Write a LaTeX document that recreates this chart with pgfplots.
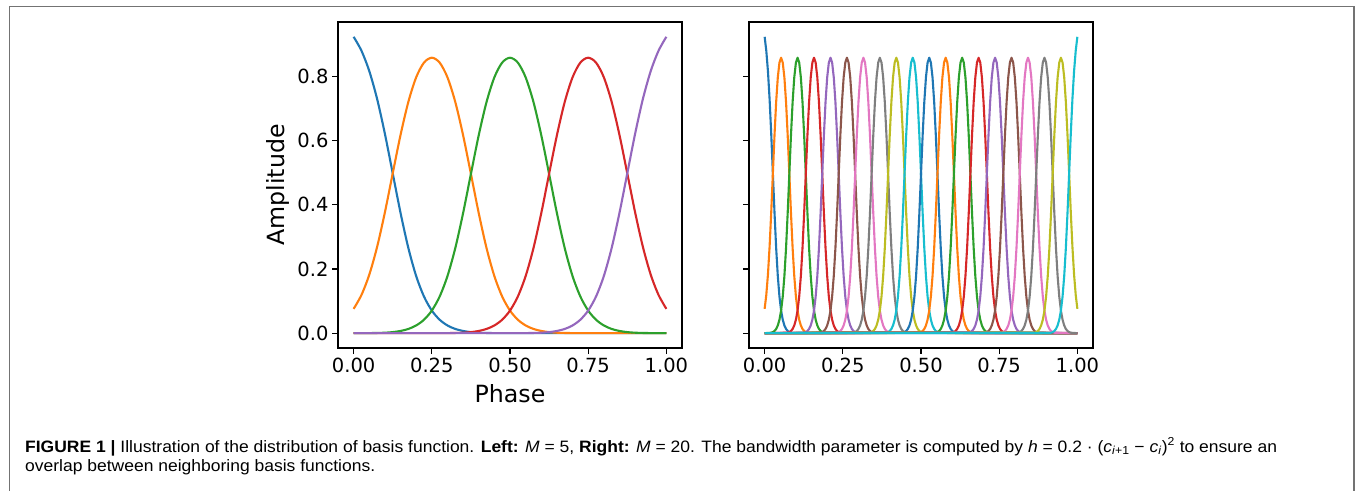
\documentclass[border=0pt]{standalone}
\usepackage{fontspec}
\setmainfont{DejaVu Sans}
\newfontfamily\capfont[FakeStretch=1.06]{Liberation Sans}
\usepackage{pgfplots}
\pgfplotsset{compat=1.18}
\definecolor{C0}{HTML}{1F77B4}
\definecolor{C1}{HTML}{FF7F0E}
\definecolor{C2}{HTML}{2CA02C}
\definecolor{C3}{HTML}{D62728}
\definecolor{C4}{HTML}{9467BD}
\definecolor{C5}{HTML}{8C564B}
\definecolor{C6}{HTML}{E377C2}
\definecolor{C7}{HTML}{7F7F7F}
\definecolor{C8}{HTML}{BCBD22}
\definecolor{C9}{HTML}{17BECF}
\pgfplotsset{
  mpl/.style={
    scale only axis, width=344pt, height=326pt,
    ymin=-0.0462, ymax=0.9703,
    tick pos=left, tick align=outside, major tick length=6pt,
    axis line style={line width=1.1pt, black},
    every tick/.style={line width=1.1pt, black},
    ytick={0,0.2,0.4,0.6,0.8},
    ticklabel style={font=\fontsize{19.5}{22}\selectfont},
    label style={font=\fontsize{23.7}{26}\selectfont},
    every axis plot/.append style={line width=2.1pt, no marks, line join=round},
  }
}
\begin{document}
\begin{tikzpicture}
\useasboundingbox (0pt,0pt) rectangle (1357pt,490pt);
\fill[white] (0pt,0pt) rectangle (1357pt,490pt);
\draw[line width=1.2pt, black!55] (9.5pt,-20pt) rectangle (1354pt,483.5pt);

% ---------------- left panel: M = 5 ----------------
\begin{axis}[mpl, at={(338pt,142pt)}, anchor=south west,
  xmin=-0.05, xmax=1.05,
  xtick={0,0.25,0.5,0.75,1}, xticklabels={0.00,0.25,0.50,0.75,1.00},
  yticklabels={0.0,0.2,0.4,0.6,0.8},
  xlabel={Phase}, ylabel={Amplitude},
  xlabel style={at={(axis description cs:0.5,-0.1687)}, anchor=base},
  ylabel style={at={(axis description cs:-0.175,0.5)}, anchor=center},
]
\addplot[C0, smooth] coordinates {(0,0.9241)(0.025,0.8807)(0.05,0.8173)(0.075,0.7306)(0.1,0.6215)(0.125,0.4983)(0.15,0.3749)(0.175,0.2654)(0.2,0.1780)(0.225,0.1142)(0.25,0.0705)(0.275,0.0420)(0.3,0.0241)(0.325,0.0132)(0.35,0.0069)(0.375,0.0033)(0.4,0.0015)(0.425,0.0007)(0.45,0.0003)(0.475,0.0001)(0.5,0)(0.75,0)(1,0)};
\addplot[C1, smooth] coordinates {(0,0.0759)(0.025,0.1192)(0.05,0.1824)(0.075,0.2688)(0.1,0.3770)(0.125,0.4983)(0.15,0.6182)(0.175,0.7214)(0.2,0.7979)(0.225,0.8438)(0.25,0.8589)(0.275,0.8437)(0.3,0.7977)(0.325,0.7209)(0.35,0.6172)(0.375,0.4967)(0.4,0.3744)(0.425,0.2652)(0.45,0.1780)(0.475,0.1142)(0.5,0.0705)(0.525,0.0420)(0.55,0.0241)(0.575,0.0132)(0.6,0.0069)(0.625,0.0033)(0.65,0.0015)(0.675,0.0007)(0.7,0.0003)(0.725,0.0001)(0.75,0)(1,0)};
\addplot[C2, smooth] coordinates {(0,0)(0.025,0.0001)(0.05,0.0003)(0.075,0.0007)(0.1,0.0015)(0.125,0.0033)(0.15,0.0069)(0.175,0.0132)(0.2,0.0241)(0.225,0.0420)(0.25,0.0705)(0.275,0.1142)(0.3,0.1780)(0.325,0.2652)(0.35,0.3744)(0.375,0.4967)(0.4,0.6172)(0.425,0.7209)(0.45,0.7977)(0.475,0.8437)(0.5,0.8589)(0.525,0.8437)(0.55,0.7977)(0.575,0.7209)(0.6,0.6172)(0.625,0.4967)(0.65,0.3744)(0.675,0.2652)(0.7,0.1780)(0.725,0.1142)(0.75,0.0705)(0.775,0.0420)(0.8,0.0241)(0.825,0.0132)(0.85,0.0069)(0.875,0.0033)(0.9,0.0015)(0.925,0.0007)(0.95,0.0003)(0.975,0.0001)(1,0)};
\addplot[C3, smooth] coordinates {(0,0)(0.25,0)(0.275,0.0001)(0.3,0.0003)(0.325,0.0007)(0.35,0.0015)(0.375,0.0033)(0.4,0.0069)(0.425,0.0132)(0.45,0.0241)(0.475,0.0420)(0.5,0.0705)(0.525,0.1142)(0.55,0.1780)(0.575,0.2652)(0.6,0.3744)(0.625,0.4967)(0.65,0.6172)(0.675,0.7209)(0.7,0.7977)(0.725,0.8437)(0.75,0.8589)(0.775,0.8438)(0.8,0.7979)(0.825,0.7214)(0.85,0.6182)(0.875,0.4983)(0.9,0.3770)(0.925,0.2688)(0.95,0.1824)(0.975,0.1192)(1,0.0759)};
\addplot[C4, smooth] coordinates {(0,0)(0.25,0)(0.5,0)(0.525,0.0001)(0.55,0.0003)(0.575,0.0007)(0.6,0.0015)(0.625,0.0033)(0.65,0.0069)(0.675,0.0132)(0.7,0.0241)(0.725,0.0420)(0.75,0.0705)(0.775,0.1142)(0.8,0.1780)(0.825,0.2654)(0.85,0.3749)(0.875,0.4983)(0.9,0.6215)(0.925,0.7306)(0.95,0.8173)(0.975,0.8807)(1,0.9241)};
\end{axis}

% ---------------- right panel: M = 20 (x in units of 1/190) ----------------
\begin{axis}[mpl, at={(749pt,142pt)}, anchor=south west,
  xmin=-9.5, xmax=199.5,
  xtick={0,47.5,95,142.5,190}, xticklabels={0.00,0.25,0.50,0.75,1.00},
  yticklabels={},
]
\addplot[C0] coordinates {(0,0.9241)(1,0.8807)(2,0.8173)(3,0.7306)(4,0.6215)(5,0.4983)(6,0.3749)(7,0.2654)(8,0.1780)(9,0.1142)(10,0.0705)(11,0.0420)(12,0.0241)(13,0.0132)(14,0.0069)(15,0.0033)(16,0.0015)(17,0.0007)(190,0)};
\addplot[C1] coordinates {(0,0.0759)(1,0.1192)(2,0.1824)(3,0.2688)(4,0.3770)(5,0.4983)(6,0.6182)(7,0.7214)(8,0.7979)(9,0.8438)(10,0.8589)(11,0.8437)(12,0.7977)(13,0.7209)(14,0.6172)(15,0.4967)(16,0.3744)(17,0.2652)(18,0.1780)(19,0.1142)(20,0.0705)(21,0.0420)(22,0.0241)(23,0.0132)(24,0.0069)(25,0.0033)(26,0.0015)(190,0)};
\addplot[C2] coordinates {(0,0)(4,.0015)(5,.0033)(6,.0069)(7,.0132)(8,.0241)(9,.0420)(10,.0705)(11,.1142)(12,.1780)(13,.2652)(14,.3744)(15,.4967)(16,.6172)(17,.7209)(18,.7977)(19,.8437)(20,.8589)(21,.8437)(22,.7977)(23,.7209)(24,.6172)(25,.4967)(26,.3744)(27,.2652)(28,.1780)(29,.1142)(30,.0705)(31,.0420)(32,.0241)(33,.0132)(34,.0069)(35,.0033)(36,.0015)(190,0)};
\addplot[C3] coordinates {(0,0)(14,.0015)(15,.0033)(16,.0069)(17,.0132)(18,.0241)(19,.0420)(20,.0705)(21,.1142)(22,.1780)(23,.2652)(24,.3744)(25,.4967)(26,.6172)(27,.7209)(28,.7977)(29,.8437)(30,.8589)(31,.8437)(32,.7977)(33,.7209)(34,.6172)(35,.4967)(36,.3744)(37,.2652)(38,.1780)(39,.1142)(40,.0705)(41,.0420)(42,.0241)(43,.0132)(44,.0069)(45,.0033)(46,.0015)(190,0)};
\addplot[C4] coordinates {(0,0)(24,.0015)(25,.0033)(26,.0069)(27,.0132)(28,.0241)(29,.0420)(30,.0705)(31,.1142)(32,.1780)(33,.2652)(34,.3744)(35,.4967)(36,.6172)(37,.7209)(38,.7977)(39,.8437)(40,.8589)(41,.8437)(42,.7977)(43,.7209)(44,.6172)(45,.4967)(46,.3744)(47,.2652)(48,.1780)(49,.1142)(50,.0705)(51,.0420)(52,.0241)(53,.0132)(54,.0069)(55,.0033)(56,.0015)(190,0)};
\addplot[C5] coordinates {(0,0)(34,.0015)(35,.0033)(36,.0069)(37,.0132)(38,.0241)(39,.0420)(40,.0705)(41,.1142)(42,.1780)(43,.2652)(44,.3744)(45,.4967)(46,.6172)(47,.7209)(48,.7977)(49,.8437)(50,.8589)(51,.8437)(52,.7977)(53,.7209)(54,.6172)(55,.4967)(56,.3744)(57,.2652)(58,.1780)(59,.1142)(60,.0705)(61,.0420)(62,.0241)(63,.0132)(64,.0069)(65,.0033)(66,.0015)(190,0)};
\addplot[C6] coordinates {(0,0)(44,.0015)(45,.0033)(46,.0069)(47,.0132)(48,.0241)(49,.0420)(50,.0705)(51,.1142)(52,.1780)(53,.2652)(54,.3744)(55,.4967)(56,.6172)(57,.7209)(58,.7977)(59,.8437)(60,.8589)(61,.8437)(62,.7977)(63,.7209)(64,.6172)(65,.4967)(66,.3744)(67,.2652)(68,.1780)(69,.1142)(70,.0705)(71,.0420)(72,.0241)(73,.0132)(74,.0069)(75,.0033)(76,.0015)(190,0)};
\addplot[C7] coordinates {(0,0)(54,.0015)(55,.0033)(56,.0069)(57,.0132)(58,.0241)(59,.0420)(60,.0705)(61,.1142)(62,.1780)(63,.2652)(64,.3744)(65,.4967)(66,.6172)(67,.7209)(68,.7977)(69,.8437)(70,.8589)(71,.8437)(72,.7977)(73,.7209)(74,.6172)(75,.4967)(76,.3744)(77,.2652)(78,.1780)(79,.1142)(80,.0705)(81,.0420)(82,.0241)(83,.0132)(84,.0069)(85,.0033)(86,.0015)(190,0)};
\addplot[C8] coordinates {(0,0)(64,.0015)(65,.0033)(66,.0069)(67,.0132)(68,.0241)(69,.0420)(70,.0705)(71,.1142)(72,.1780)(73,.2652)(74,.3744)(75,.4967)(76,.6172)(77,.7209)(78,.7977)(79,.8437)(80,.8589)(81,.8437)(82,.7977)(83,.7209)(84,.6172)(85,.4967)(86,.3744)(87,.2652)(88,.1780)(89,.1142)(90,.0705)(91,.0420)(92,.0241)(93,.0132)(94,.0069)(95,.0033)(96,.0015)(190,0)};
\addplot[C9] coordinates {(0,0)(74,.0015)(75,.0033)(76,.0069)(77,.0132)(78,.0241)(79,.0420)(80,.0705)(81,.1142)(82,.1780)(83,.2652)(84,.3744)(85,.4967)(86,.6172)(87,.7209)(88,.7977)(89,.8437)(90,.8589)(91,.8437)(92,.7977)(93,.7209)(94,.6172)(95,.4967)(96,.3744)(97,.2652)(98,.1780)(99,.1142)(100,.0705)(101,.0420)(102,.0241)(103,.0132)(104,.0069)(105,.0033)(106,.0015)(190,0)};
\addplot[C0] coordinates {(0,0)(84,.0015)(85,.0033)(86,.0069)(87,.0132)(88,.0241)(89,.0420)(90,.0705)(91,.1142)(92,.1780)(93,.2652)(94,.3744)(95,.4967)(96,.6172)(97,.7209)(98,.7977)(99,.8437)(100,.8589)(101,.8437)(102,.7977)(103,.7209)(104,.6172)(105,.4967)(106,.3744)(107,.2652)(108,.1780)(109,.1142)(110,.0705)(111,.0420)(112,.0241)(113,.0132)(114,.0069)(115,.0033)(116,.0015)(190,0)};
\addplot[C1] coordinates {(0,0)(94,.0015)(95,.0033)(96,.0069)(97,.0132)(98,.0241)(99,.0420)(100,.0705)(101,.1142)(102,.1780)(103,.2652)(104,.3744)(105,.4967)(106,.6172)(107,.7209)(108,.7977)(109,.8437)(110,.8589)(111,.8437)(112,.7977)(113,.7209)(114,.6172)(115,.4967)(116,.3744)(117,.2652)(118,.1780)(119,.1142)(120,.0705)(121,.0420)(122,.0241)(123,.0132)(124,.0069)(125,.0033)(126,.0015)(190,0)};
\addplot[C2] coordinates {(0,0)(104,.0015)(105,.0033)(106,.0069)(107,.0132)(108,.0241)(109,.0420)(110,.0705)(111,.1142)(112,.1780)(113,.2652)(114,.3744)(115,.4967)(116,.6172)(117,.7209)(118,.7977)(119,.8437)(120,.8589)(121,.8437)(122,.7977)(123,.7209)(124,.6172)(125,.4967)(126,.3744)(127,.2652)(128,.1780)(129,.1142)(130,.0705)(131,.0420)(132,.0241)(133,.0132)(134,.0069)(135,.0033)(136,.0015)(190,0)};
\addplot[C3] coordinates {(0,0)(114,.0015)(115,.0033)(116,.0069)(117,.0132)(118,.0241)(119,.0420)(120,.0705)(121,.1142)(122,.1780)(123,.2652)(124,.3744)(125,.4967)(126,.6172)(127,.7209)(128,.7977)(129,.8437)(130,.8589)(131,.8437)(132,.7977)(133,.7209)(134,.6172)(135,.4967)(136,.3744)(137,.2652)(138,.1780)(139,.1142)(140,.0705)(141,.0420)(142,.0241)(143,.0132)(144,.0069)(145,.0033)(146,.0015)(190,0)};
\addplot[C4] coordinates {(0,0)(124,.0015)(125,.0033)(126,.0069)(127,.0132)(128,.0241)(129,.0420)(130,.0705)(131,.1142)(132,.1780)(133,.2652)(134,.3744)(135,.4967)(136,.6172)(137,.7209)(138,.7977)(139,.8437)(140,.8589)(141,.8437)(142,.7977)(143,.7209)(144,.6172)(145,.4967)(146,.3744)(147,.2652)(148,.1780)(149,.1142)(150,.0705)(151,.0420)(152,.0241)(153,.0132)(154,.0069)(155,.0033)(156,.0015)(190,0)};
\addplot[C5] coordinates {(0,0)(134,.0015)(135,.0033)(136,.0069)(137,.0132)(138,.0241)(139,.0420)(140,.0705)(141,.1142)(142,.1780)(143,.2652)(144,.3744)(145,.4967)(146,.6172)(147,.7209)(148,.7977)(149,.8437)(150,.8589)(151,.8437)(152,.7977)(153,.7209)(154,.6172)(155,.4967)(156,.3744)(157,.2652)(158,.1780)(159,.1142)(160,.0705)(161,.0420)(162,.0241)(163,.0132)(164,.0069)(165,.0033)(166,.0015)(190,0)};
\addplot[C6] coordinates {(0,0)(144,.0015)(145,.0033)(146,.0069)(147,.0132)(148,.0241)(149,.0420)(150,.0705)(151,.1142)(152,.1780)(153,.2652)(154,.3744)(155,.4967)(156,.6172)(157,.7209)(158,.7977)(159,.8437)(160,.8589)(161,.8437)(162,.7977)(163,.7209)(164,.6172)(165,.4967)(166,.3744)(167,.2652)(168,.1780)(169,.1142)(170,.0705)(171,.0420)(172,.0241)(173,.0132)(174,.0069)(175,.0033)(176,.0015)(190,0)};
\addplot[C7] coordinates {(0,0)(154,.0015)(155,.0033)(156,.0069)(157,.0132)(158,.0241)(159,.0420)(160,.0705)(161,.1142)(162,.1780)(163,.2652)(164,.3744)(165,.4967)(166,.6172)(167,.7209)(168,.7977)(169,.8437)(170,.8589)(171,.8437)(172,.7977)(173,.7209)(174,.6172)(175,.4967)(176,.3744)(177,.2652)(178,.1780)(179,.1142)(180,.0705)(181,.0420)(182,.0241)(183,.0132)(184,.0069)(185,.0033)(186,.0015)(190,0)};
\addplot[C8] coordinates {(0,0)(164,0.0015)(165,0.0033)(166,0.0069)(167,0.0132)(168,0.0241)(169,0.0420)(170,0.0705)(171,0.1142)(172,0.1780)(173,0.2652)(174,0.3744)(175,0.4967)(176,0.6172)(177,0.7209)(178,0.7977)(179,0.8437)(180,0.8589)(181,0.8438)(182,0.7979)(183,0.7214)(184,0.6182)(185,0.4983)(186,0.3770)(187,0.2688)(188,0.1824)(189,0.1192)(190,0.0759)};
\addplot[C9] coordinates {(0,0)(173,0.0007)(174,0.0015)(175,0.0033)(176,0.0069)(177,0.0132)(178,0.0241)(179,0.0420)(180,0.0705)(181,0.1142)(182,0.1780)(183,0.2654)(184,0.3749)(185,0.4983)(186,0.6215)(187,0.7306)(188,0.8173)(189,0.8807)(190,0.9241)};
\end{axis}

% ---------------- caption ----------------
\node[anchor=base west, inner sep=0pt, align=left, font=\capfont\fontsize{16.5}{19}\selectfont] at (25pt,19pt)
{\textbf{FIGURE 1 |} Illustration of the distribution of basis function. \textbf{Left:} \textit{M}~=~5, \textbf{Right:} \textit{M}~=~20. The bandwidth parameter is computed by \textit{h}~=~0.2~·~(\textit{c}\textsubscript{\textit{i}+1}~−~\textit{c}\textsubscript{\textit{i}})\textsuperscript{2} to ensure an\\overlap between neighboring basis functions.};
\end{tikzpicture}
\end{document}
